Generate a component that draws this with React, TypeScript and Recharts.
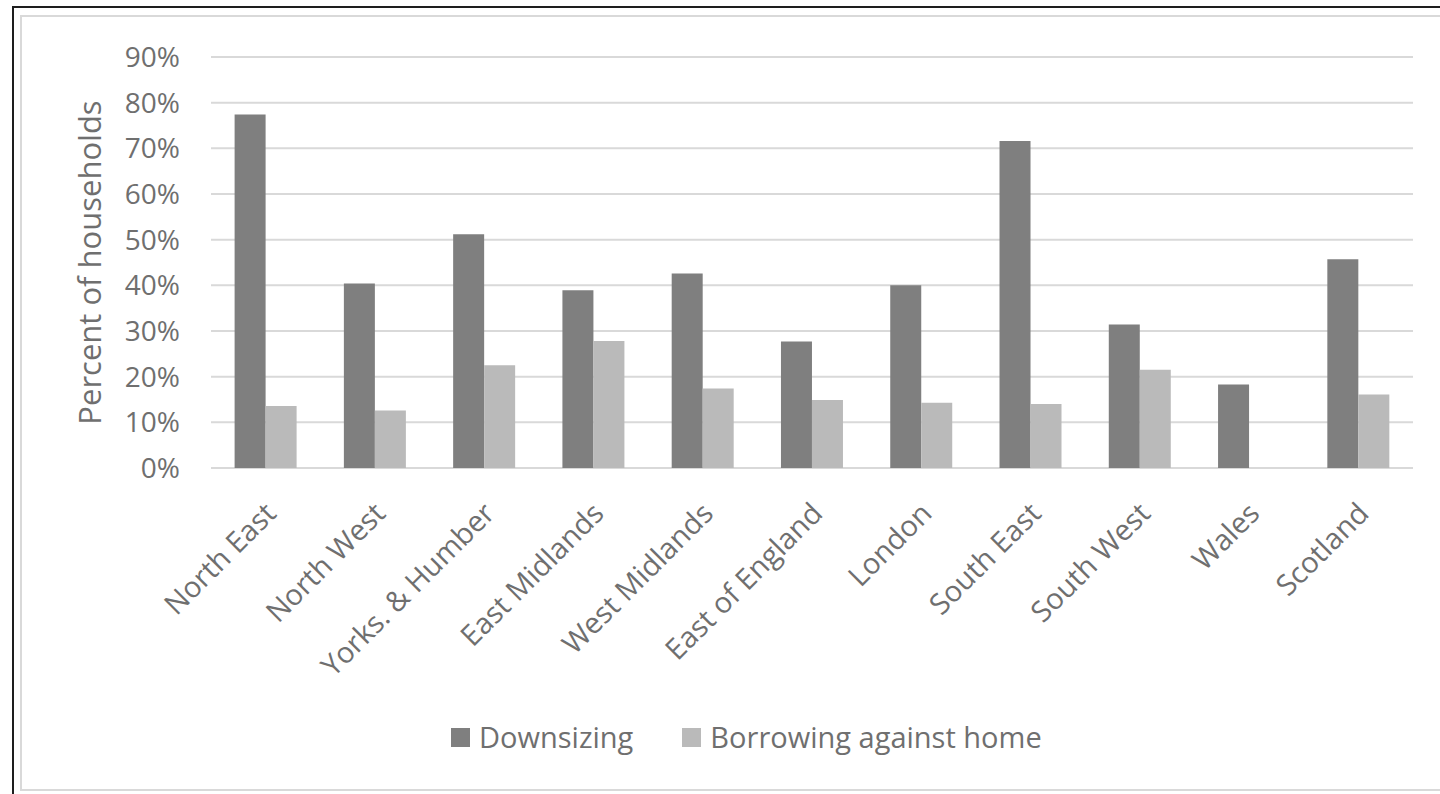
import { BarChart, Bar, XAxis, YAxis, CartesianGrid, Legend } from 'recharts'

const regions = [
  'North East',
  'North West',
  'Yorks. & Humber',
  'East Midlands',
  'West Midlands',
  'East of England',
  'London',
  'South East',
  'South West',
  'Wales',
  'Scotland',
]

// percent of households in each region
const downsizing = [77.4, 40.4, 51.2, 38.9, 42.6, 27.7, 40.0, 71.6, 31.4, 18.3, 45.7]
const borrowing = [13.6, 12.6, 22.5, 27.8, 17.4, 14.9, 14.3, 14.0, 21.5, null, 16.1]

const seriesNames = ['Downsizing', 'Borrowing against home']

const yTicks = [0, 10, 20, 30, 40, 50, 60, 70, 80, 90]

const data = regions.map((region, i) => ({
  region,
  downsizing: downsizing[i],
  borrowing: borrowing[i],
}))

const FONT = '"Open Sans", sans-serif'
const TEXT = '#6f6f6f'
const DARK = '#7f7f7f'
const LIGHT = '#bababa'
const GRID = '#d9d9d9'

const CategoryTick = ({ x, y, payload }: any) => (
  <g transform={`translate(${x + 5},${y + 32})`}>
    <text
      transform="rotate(-45)"
      textAnchor="end"
      dy="0.35em"
      fill={TEXT}
      fontSize={29}
      fontFamily={FONT}
    >
      {payload.value}
    </text>
  </g>
)

// keep legend entries in series order
const renderLegend = ({ payload }: any) => {
  const items = [...payload].sort(
    (a: any, b: any) => seriesNames.indexOf(a.value) - seriesNames.indexOf(b.value)
  )
  return (
    <div style={{ display: 'flex', alignItems: 'center', fontFamily: FONT }}>
      {items.map((item: any, i: number) => (
        <div
          key={item.value}
          style={{
            display: 'flex',
            alignItems: 'center',
            marginLeft: i === 0 ? 0 : 49,
          }}
        >
          <span
            style={{
              width: 19,
              height: 19,
              background: item.color,
              marginRight: 9,
              display: 'inline-block',
            }}
          />
          <span style={{ fontSize: 29, lineHeight: '38px', color: TEXT }}>
            {item.value}
          </span>
        </div>
      ))}
    </div>
  )
}

const App = () => {
  return (
    <div
      style={{
        position: 'absolute',
        left: 0,
        top: 0,
        width: 1440,
        height: 794,
        overflow: 'hidden',
        background: '#fff',
      }}
    >
      {/* frame lines */}
      <div
        style={{
          position: 'absolute',
          left: 12,
          top: 6,
          width: 1460,
          height: 810,
          border: '2px solid #1e1e1e',
          boxSizing: 'border-box',
        }}
      />
      <div
        style={{
          position: 'absolute',
          left: 20,
          top: 15,
          width: 1450,
          height: 776,
          border: `2px solid ${GRID}`,
          boxSizing: 'border-box',
        }}
      />
      <div style={{ position: 'absolute', left: 0, top: 0 }}>
        <BarChart
          width={1440}
          height={794}
          data={data}
          margin={{ top: 57, right: 27, left: 0, bottom: 0 }}
          barCategoryGap="21.6%"
          barGap={0}
        >
          <CartesianGrid vertical={false} stroke={GRID} strokeWidth={2} />
          <XAxis
            dataKey="region"
            axisLine={false}
            tickLine={false}
            interval={0}
            height={326}
            tick={<CategoryTick />}
          />
          <YAxis
            width={211}
            domain={[0, 90]}
            ticks={yTicks}
            tickFormatter={(v) => `${v}%`}
            axisLine={false}
            tickLine={false}
            tickMargin={25}
            tick={{ fill: TEXT, fontSize: 28, fontFamily: FONT }}
            label={{
              value: 'Percent of households',
              angle: -90,
              position: 'center',
              dx: -16,
              style: { fill: TEXT, fontSize: 31, fontFamily: FONT, textAnchor: 'middle' },
            }}
          />
          <Legend
            layout="horizontal"
            verticalAlign="middle"
            align="center"
            content={renderLegend}
            wrapperStyle={{ top: 718, left: 451, width: 'auto' }}
          />
          <Bar
            dataKey="downsizing"
            name={seriesNames[0]}
            fill={DARK}
            isAnimationActive={false}
          />
          <Bar
            dataKey="borrowing"
            name={seriesNames[1]}
            fill={LIGHT}
            isAnimationActive={false}
          />
        </BarChart>
      </div>
    </div>
  )
}

export default App
